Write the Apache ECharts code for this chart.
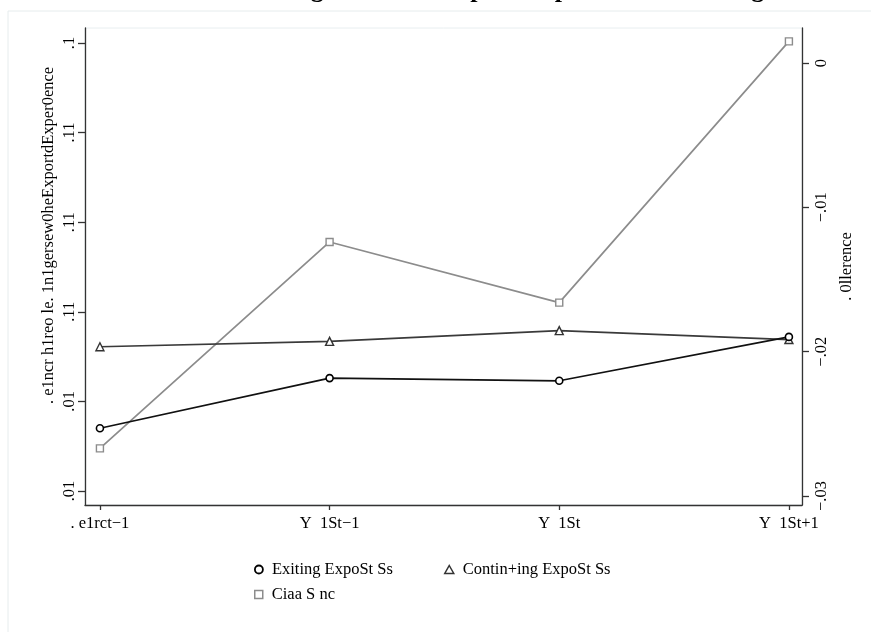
<!DOCTYPE html>
<html>
<head>
<meta charset="utf-8">
<script src="https://cdn.jsdelivr.net/npm/echarts@6/dist/echarts.min.js"></script>
<style>html,body{margin:0;padding:0;background:#fff;}#c{width:871px;height:632px;}</style>
</head>
<body>
<div id="c"></div>
<script>
const categories = [0, 1, 2, 3];
const xLabels = ['. e1rct\u22121', 'Y  1St\u22121', 'Y  1St', 'Y  1St+1'];
const leftTicks = [0.05, 0.06, 0.07, 0.08, 0.09, 0.10];
const leftTickLabels = ['.01', '.01', '.11', '.11', '.11', '.1'];
const rightTicks = [-0.03, -0.02, -0.01, 0];
const rightTickLabels = ['\u2212.03', '\u2212.02', '\u2212.01', '0'];
const exiting = [0.0570, 0.0626, 0.0623, 0.0672];
const continuing = [0.0661, 0.0667, 0.0679, 0.0669];
const difference = [-0.0267, -0.0124, -0.0166, 0.0015];
const seriesNames = ['Exiting ExpoSt Ss', 'Contin+ing ExpoSt Ss', 'Ciaa S nc'];
const titleText = 'Change in Mean Export Experience at Exiting';
const leftTitle = '. e1ncr h1reo le. 1n1gersew0heExportdExper0ence';
const rightTitle = '. 0llerence';

const FONT = 'Liberation Serif';
const FS = 16.5;
const chart = echarts.init(document.getElementById('c'), null, {renderer: 'canvas'});

function pairs(vals) { return categories.map((c, i) => [c, vals[i]]); }
const axisLineStyle = {color: '#333', width: 1.3};
const legendText = {fontFamily: FONT, fontSize: FS, color: '#000', padding: [0, 0, 0, 4]};

const option = {
  animation: false,
  backgroundColor: '#fff',
  grid: {left: 85, right: 69, top: 28, bottom: 127, show: true, borderColor: '#e8eef0', borderWidth: 1, containLabel: false},
  graphic: [
    {type: 'rect', shape: {x: 8, y: 11, width: 875, height: 640}, style: {fill: 'none', stroke: '#e6eced', lineWidth: 1}, z: -1},
    {type: 'text', left: 250, top: -23, style: {text: titleText, font: 'bold 26px "Liberation Serif"', fill: '#000'}}
  ],
  xAxis: {
    type: 'value', min: -0.065, max: 3.057,
    axisLine: {show: true, onZero: false, lineStyle: axisLineStyle},
    axisTick: {show: true, length: 5, lineStyle: axisLineStyle, customValues: categories},
    axisLabel: {customValues: categories, formatter: v => xLabels[Math.round(v)], fontFamily: FONT, fontSize: FS, color: '#000', margin: 10},
    splitLine: {show: false}
  },
  yAxis: [
    {
      type: 'value', position: 'left', min: 0.0484375, max: 0.10167,
      axisLine: {show: true, onZero: false, lineStyle: axisLineStyle},
      axisTick: {show: true, length: 7, lineStyle: axisLineStyle, customValues: leftTicks},
      axisLabel: {customValues: leftTicks, rotate: 90, formatter: v => leftTickLabels[leftTicks.findIndex(t => Math.abs(t - v) < 1e-6)], fontFamily: FONT, fontSize: FS, color: '#000', margin: 7},
      splitLine: {show: false},
      name: leftTitle, nameLocation: 'middle', nameRotate: 90, nameGap: 28, nameMoveOverlap: false,
      nameTextStyle: {fontFamily: FONT, fontSize: FS, color: '#000', padding: [0, 0, 0, 62]}
    },
    {
      type: 'value', position: 'right', min: -0.030624, max: 0.002425,
      axisLine: {show: true, onZero: false, lineStyle: axisLineStyle},
      axisTick: {show: true, length: 7, lineStyle: axisLineStyle, customValues: rightTicks},
      axisLabel: {customValues: rightTicks, rotate: 90, formatter: v => rightTickLabels[rightTicks.findIndex(t => Math.abs(t - v) < 1e-7)], fontFamily: FONT, fontSize: FS, color: '#000', margin: 11},
      splitLine: {show: false},
      name: rightTitle, nameLocation: 'middle', nameRotate: 90, nameGap: 32,
      nameTextStyle: {fontFamily: FONT, fontSize: FS, color: '#000'}
    }
  ],
  legend: [
    {left: 249, top: 556, itemWidth: 8, itemHeight: 8, selectedMode: false, textStyle: legendText,
     data: [{name: seriesNames[0], icon: 'circle', itemStyle: {color: '#fff', borderColor: '#000', borderWidth: 1.8}}]},
    {left: 439, top: 556, itemWidth: 9, itemHeight: 8, selectedMode: false, textStyle: legendText,
     data: [{name: seriesNames[1], icon: 'triangle', itemStyle: {color: '#fff', borderColor: '#333', borderWidth: 1.5}}]},
    {left: 249, top: 581, itemWidth: 8, itemHeight: 8, selectedMode: false, textStyle: legendText,
     data: [{name: seriesNames[2], icon: 'rect', itemStyle: {color: '#fff', borderColor: '#8c8c8c', borderWidth: 1.5}}]}
  ],
  series: [
    {name: seriesNames[0], type: 'line', yAxisIndex: 0, data: pairs(exiting), symbol: 'circle', symbolSize: 7,
     lineStyle: {color: '#111', width: 1.7}, itemStyle: {color: '#fff', borderColor: '#000', borderWidth: 1.6}, z: 3},
    {name: seriesNames[1], type: 'line', yAxisIndex: 0, data: pairs(continuing), symbol: 'triangle', symbolSize: 8,
     lineStyle: {color: '#3a3a3a', width: 1.7}, itemStyle: {color: '#fff', borderColor: '#333', borderWidth: 1.4}, z: 2},
    {name: seriesNames[2], type: 'line', yAxisIndex: 1, data: pairs(difference), symbol: 'rect', symbolSize: 7,
     lineStyle: {color: '#8c8c8c', width: 1.7}, itemStyle: {color: '#fff', borderColor: '#8c8c8c', borderWidth: 1.4}, z: 1}
  ]
};
chart.setOption(option);
</script>
</body>
</html>
